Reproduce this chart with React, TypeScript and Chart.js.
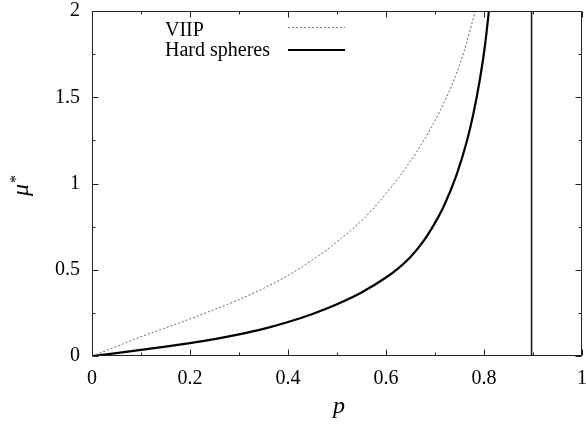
import React, { useEffect, useRef } from "react";
import { Chart, registerables } from "chart.js";
Chart.register(...registerables);

// ---- data ----
const xTicks = [0, 0.2, 0.4, 0.6, 0.8, 1];
const xTickLabels = ["0", "0.2", "0.4", "0.6", "0.8", "1"];
const xMinorTicks = [0.1, 0.3, 0.5, 0.7, 0.9];
const yTicks = [0, 0.5, 1, 1.5, 2];
const yTickLabels = ["0", "0.5", "1", "1.5", "2"];
const yMinorTicks = [0.25, 0.75, 1.25, 1.75];

const pViip = [0, 0.05, 0.1, 0.15, 0.2, 0.25, 0.3, 0.35, 0.4, 0.45, 0.5, 0.554, 0.601, 0.642, 0.669, 0.697, 0.724, 0.744, 0.758, 0.766, 0.782];
const muViip = [0, 0.055, 0.112, 0.163, 0.215, 0.27, 0.327, 0.392, 0.467, 0.557, 0.662, 0.795, 0.945, 1.097, 1.213, 1.349, 1.503, 1.639, 1.755, 1.83, 2.0];

const pHard = [0, 0.05, 0.1, 0.15, 0.2, 0.25, 0.3, 0.35, 0.4, 0.45, 0.5, 0.55, 0.6, 0.625, 0.65, 0.676, 0.7, 0.717, 0.744, 0.765, 0.778, 0.792, 0.802, 0.81];
const muHard = [0, 0.017, 0.035, 0.054, 0.075, 0.098, 0.125, 0.157, 0.197, 0.244, 0.3, 0.368, 0.455, 0.508, 0.574, 0.664, 0.772, 0.862, 1.05, 1.245, 1.4, 1.61, 1.8, 2.0];

const wallP = [0.897, 0.897];
const wallMu = [0, 2];

const legendLabels = ["VIIP", "Hard spheres"];
const xTitle = "p";
const yTitle = "μ";
const yTitleSup = "*";

const SERIF = "'Liberation Serif', 'DejaVu Serif', 'Times New Roman', serif";

function labelFor(v: number, ticks: number[], labels: string[]) {
  const i = ticks.findIndex((t) => Math.abs(t - v) < 1e-6);
  return i >= 0 ? labels[i] : "";
}

const decorPlugin = {
  id: "gnuplotDecor",
  afterDraw(chart: any) {
    const ctx = chart.ctx as CanvasRenderingContext2D;
    const { left, right, top, bottom } = chart.chartArea;
    const xs = chart.scales.x;
    const ys = chart.scales.y;
    ctx.save();
    // frame
    ctx.strokeStyle = "#222";
    ctx.lineWidth = 1;
    const L = Math.round(left) + 0.5, R = Math.round(right) - 0.5;
    const T = Math.round(top) + 0.5, B = Math.round(bottom) - 0.5;
    ctx.strokeRect(L, T, R - L, B - T);
    // ticks (inward, mirrored)
    const drawX = (vals: number[], len: number) => {
      vals.forEach((v) => {
        const px = Math.round(xs.getPixelForValue(v)) + 0.5;
        ctx.beginPath();
        ctx.moveTo(px, B); ctx.lineTo(px, B - len);
        ctx.moveTo(px, T); ctx.lineTo(px, T + len);
        ctx.stroke();
      });
    };
    const drawY = (vals: number[], len: number) => {
      vals.forEach((v) => {
        const py = Math.round(ys.getPixelForValue(v)) + 0.5;
        ctx.beginPath();
        ctx.moveTo(L, py); ctx.lineTo(L + len, py);
        ctx.moveTo(R, py); ctx.lineTo(R - len, py);
        ctx.stroke();
      });
    };
    drawX(xTicks, 6); drawX(xMinorTicks, 3);
    drawY(yTicks, 6); drawY(yMinorTicks, 3);

    // legend
    ctx.fillStyle = "#000";
    ctx.font = `20px ${SERIF}`;
    ctx.textAlign = "left";
    ctx.textBaseline = "alphabetic";
    ctx.fillText(legendLabels[0], 165, 36);
    ctx.fillText(legendLabels[1], 165, 56);
    ctx.beginPath();
    ctx.strokeStyle = "#888";
    ctx.lineWidth = 1;
    ctx.setLineDash([2, 2]);
    ctx.moveTo(288, 27.5); ctx.lineTo(345, 27.5);
    ctx.stroke();
    ctx.setLineDash([]);
    ctx.beginPath();
    ctx.strokeStyle = "#000";
    ctx.lineWidth = 2.2;
    ctx.moveTo(288, 50); ctx.lineTo(345, 50);
    ctx.stroke();

    // axis titles
    ctx.fillStyle = "#000";
    ctx.font = `italic 24px ${SERIF}`;
    ctx.textAlign = "center";
    ctx.fillText(xTitle, 339, 413);

    ctx.translate(28, 196);
    ctx.rotate(-Math.PI / 2);
    ctx.textAlign = "left";
    ctx.font = `italic 24px ${SERIF}`;
    ctx.fillText(yTitle, 0, 0);
    const w = ctx.measureText(yTitle).width;
    ctx.font = `16px ${SERIF}`;
    ctx.fillText(yTitleSup, w + 1, -7);
    ctx.restore();
  },
};

export default function App() {
  const ref = useRef<HTMLCanvasElement | null>(null);
  useEffect(() => {
    if (!ref.current) return;
    const chart = new Chart(ref.current, {
      type: "line",
      data: {
        datasets: [
          {
            label: legendLabels[0],
            data: pViip.map((p, i) => ({ x: p, y: muViip[i] })),
            borderColor: "#666",
            borderWidth: 1,
            borderDash: [2, 2],
            pointRadius: 0,
            cubicInterpolationMode: "monotone",
            fill: false,
          },
          {
            label: legendLabels[1],
            data: pHard.map((p, i) => ({ x: p, y: muHard[i] })),
            borderColor: "#000",
            borderWidth: 2.2,
            pointRadius: 0,
            cubicInterpolationMode: "monotone",
            fill: false,
          },
          {
            label: "wall",
            data: wallP.map((p, i) => ({ x: p, y: wallMu[i] })),
            borderColor: "#111",
            borderWidth: 1.5,
            pointRadius: 0,
            fill: false,
          },
        ],
      },
      options: {
        responsive: false,
        animation: false,
        events: [],
        layout: { padding: { top: 11, right: 4, left: 0, bottom: 0 } },
        plugins: { legend: { display: false }, tooltip: { enabled: false } },
        scales: {
          x: {
            type: "linear",
            min: 0,
            max: 1,
            ticks: {
              stepSize: 0.2,
              padding: 13,
              maxRotation: 0,
              autoSkip: false,
              color: "#000",
              font: { family: SERIF, size: 20, lineHeight: 1 },
              callback: (v: any) => labelFor(Number(v), xTicks, xTickLabels),
            },
            grid: { display: false, drawTicks: false },
            border: { display: false },
            afterFit: (s: any) => {
              s.height = 72;
              s.paddingLeft = 0;
              s.paddingRight = 0;
            },
          },
          y: {
            type: "linear",
            min: 0,
            max: 2,
            ticks: {
              stepSize: 0.5,
              padding: 12,
              autoSkip: false,
              color: "#000",
              font: { family: SERIF, size: 20, lineHeight: 1 },
              callback: (v: any) => labelFor(Number(v), yTicks, yTickLabels),
            },
            grid: { display: false, drawTicks: false },
            border: { display: false },
            afterFit: (s: any) => {
              s.width = 92;
              s.paddingTop = 0;
              s.paddingBottom = 0;
            },
          },
        },
      },
      plugins: [decorPlugin],
    } as any);
    return () => chart.destroy();
  }, []);
  return (
    <div style={{ position: "fixed", left: 0, top: 0, width: 586, height: 428, background: "#fff" }}>
      <canvas ref={ref} width={586} height={428} style={{ display: "block" }} />
    </div>
  );
}
